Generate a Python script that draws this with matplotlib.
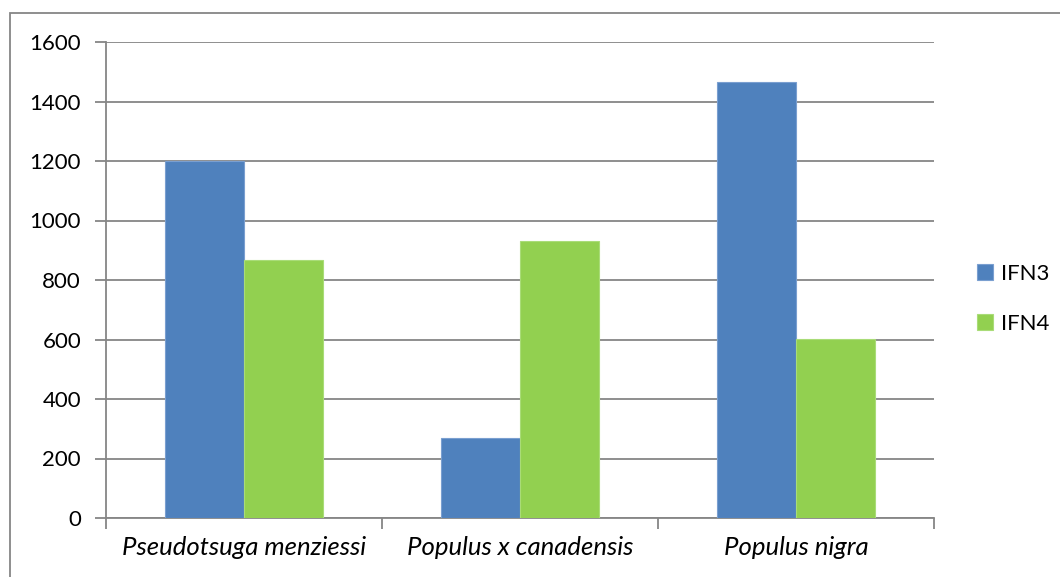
import matplotlib
matplotlib.use("Agg")
import matplotlib.pyplot as plt
import numpy as np
from matplotlib.patches import Rectangle

categories = ["Pseudotsuga menziessi", "Populus x canadensis", "Populus nigra"]
series_names = ["IFN3", "IFN4"]
ifn3 = [1200, 268, 1466]
ifn4 = [867, 932, 601]
yticks = [0, 200, 400, 600, 800, 1000, 1200, 1400, 1600]

colors = ["#4F81BD", "#92D050"]
edges = ["#7A9FD0", "#A9DC78"]

plt.rcParams['font.family'] = ['Lato', 'DejaVu Sans']

W, H = 1060, 577
fig = plt.figure(figsize=(W/100, H/100), dpi=100)
ax = fig.add_axes([106/W, 1-518/H, (934-106)/W, (518-42)/H])

x = np.arange(len(categories))
bw = 0.285
for i, (vals, name) in enumerate(zip([ifn3, ifn4], series_names)):
    ax.bar(x + (i - 0.5) * bw, vals, width=bw, color=colors[i],
           edgecolor=edges[i], linewidth=0.8, label=name, zorder=3)

ax.set_xlim(-0.5, len(categories) - 0.5)
ax.set_ylim(0, 1600)
ax.set_yticks(yticks)
ax.set_yticklabels([str(v) for v in yticks], fontsize=16)
ax.yaxis.grid(True, color="#868686", linewidth=1.3, zorder=0)
ax.set_axisbelow(True)

ax.set_xticks(np.arange(len(categories) + 1) - 0.5)
ax.set_xticklabels([])
ax.set_xticks(x, minor=True)
ax.set_xticklabels(categories, minor=True, fontsize=18.5, style='italic')
ax.tick_params(axis='x', which='minor', length=0, pad=13)
ax.tick_params(axis='x', which='major', length=8, color="#868686", width=1.3)
ax.tick_params(axis='y', length=8, color="#868686", width=1.3, pad=10)

for s in ["top", "right"]:
    ax.spines[s].set_visible(False)
for s in ["left", "bottom"]:
    ax.spines[s].set_color("#868686")
    ax.spines[s].set_linewidth(1.3)

leg = fig.legend(loc="center left", bbox_to_anchor=(977/W, 1-299/H), frameon=False,
                 fontsize=16, handlelength=0.7, handleheight=0.7,
                 handletextpad=0.4, labelspacing=1.35, borderpad=0,
                 borderaxespad=0)

fig.patches.append(Rectangle((10/W, -0.1), 1.2, 1.1 - 13/H, transform=fig.transFigure,
                             fill=False, edgecolor="#868686", linewidth=1.3))

fig.savefig("out.png", dpi=100)
